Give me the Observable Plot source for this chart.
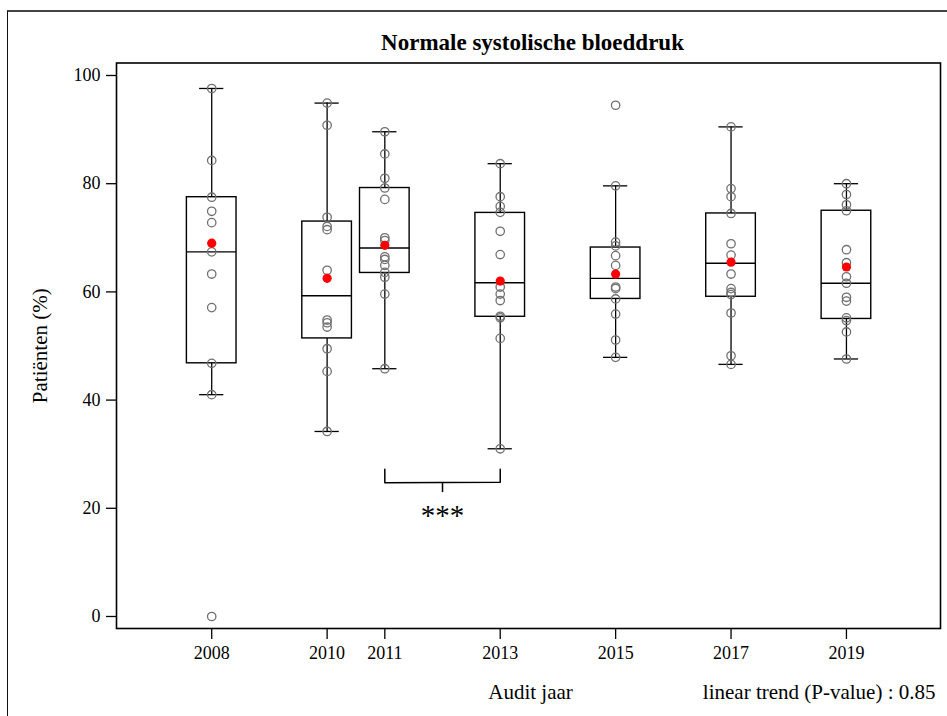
<!DOCTYPE html>
<html>
<head>
<meta charset="utf-8">
<script src="https://cdn.jsdelivr.net/npm/d3@7"></script>
<script src="https://cdn.jsdelivr.net/npm/@observablehq/plot@0.6"></script>
<style>
  html, body { margin: 0; padding: 0; background: #fff; }
  #wrap { position: relative; width: 947px; height: 716px; overflow: hidden; }
  #border { position: absolute; left: 7px; top: 10px; width: 960px; height: 720px;
            border-top: 2px solid #444; border-left: 1.5px solid #111; pointer-events: none; }
  svg { display: block; }
</style>
</head>
<body>
<div id="wrap"><div id="border"></div><div id="chart"></div></div>
<script>
// ---- data ----
const years       = [2008, 2010, 2011, 2013, 2015, 2017, 2019];
const q1          = [46.8, 51.4, 63.5, 55.4, 58.7, 59.1, 55.0];
const median      = [67.4, 59.3, 68.1, 61.7, 62.5, 65.3, 61.6];
const q3          = [77.5, 73.0, 79.2, 74.6, 68.2, 74.5, 75.0];
const whiskerLow  = [41.0, 34.2, 45.8, 31.0, 47.9, 46.6, 47.6];
const whiskerHigh = [97.6, 94.9, 89.6, 83.7, 79.6, 90.5, 80.0];
const means       = [69.0, 62.5, 68.6, 62.0, 63.3, 65.5, 64.6];

const pts2008 = [97.6, 84.3, 77.5, 74.9, 72.8, 67.4, 63.3, 57.1, 46.8, 41.0, 0];
const pts2010 = [94.9, 90.8, 73.8, 72.1, 71.5, 64.0, 54.8, 54.3, 53.5, 49.5, 45.3, 34.2];
const pts2011 = [89.6, 85.5, 81.0, 79.2, 77.1, 70.0, 69.5, 66.5, 66.0, 64.9, 63.6, 62.7, 59.6, 45.8];
const pts2013 = [83.7, 77.6, 75.8, 74.7, 71.2, 66.9, 60.9, 59.6, 58.4, 55.5, 55.2, 51.4, 31.0];
const pts2015 = [94.5, 79.6, 69.2, 68.5, 66.7, 64.9, 60.9, 60.6, 58.7, 55.9, 51.1, 47.9];
const pts2017 = [90.5, 79.1, 77.6, 74.5, 68.9, 66.8, 63.3, 60.6, 59.9, 59.5, 56.1, 48.2, 46.6];
const pts2019 = [80.0, 78.0, 76.1, 75.0, 67.8, 65.4, 62.8, 61.6, 59.0, 58.3, 55.2, 54.7, 52.6, 47.6];

const yTicks = [0, 20, 40, 60, 80, 100];
const xTicks = [2008, 2010, 2011, 2013, 2015, 2017, 2019];

// significance annotation
const bracketFrom = 2011, bracketTo = 2013;
const bracketY = 24.7, bracketTop = 27.2, bracketTickBottom = 22.9;
const starsLabel = "***", starsY = 18.6;

const title = "Normale systolische bloeddruk";
const yLabel = "Patiënten (%)";
const xLabel = "Audit jaar";
const trendLabel = "linear trend (P-value) : 0.85";

// ---- build tables ----
const allPts = [pts2008, pts2010, pts2011, pts2013, pts2015, pts2017, pts2019];
const stats = years.map((year, i) => ({
  year, q1: q1[i], median: median[i], q3: q3[i],
  lo: whiskerLow[i], hi: whiskerHigh[i], mean: means[i]
}));
const points = allPts.flatMap((arr, i) => arr.map(v => ({year: years[i], value: v})));

const boxHalf = 0.43, capHalf = 0.21;
const serif = "Liberation Serif, Times New Roman, serif";

const chart = Plot.plot({
  width: 947,
  height: 716,
  marginLeft: 116,
  marginRight: 7,
  marginTop: 62.5,
  marginBottom: 88,
  style: {fontFamily: serif, fontSize: "18px", background: "transparent", color: "#000"},
  x: {domain: [2006.35, 2020.63]},
  y: {domain: [-2.22, 102.31]},
  marks: [
    Plot.axisY({ticks: yTicks, tickSize: 10, tickPadding: 6, label: null, tickFormat: d => String(d), fontSize: 18, strokeWidth: 1.3}),
    Plot.axisX({ticks: xTicks, tickSize: 11, tickPadding: 7, label: null, tickFormat: d => String(d), fontSize: 18, strokeWidth: 1.3}),
    Plot.frame({stroke: "#000", strokeWidth: 1.6}),
    // whiskers
    Plot.ruleX(stats, {x: "year", y1: "lo", y2: "q1", stroke: "#000", strokeWidth: 1.3}),
    Plot.ruleX(stats, {x: "year", y1: "q3", y2: "hi", stroke: "#000", strokeWidth: 1.3}),
    // caps
    Plot.ruleY(stats, {y: "lo", x1: d => d.year - capHalf, x2: d => d.year + capHalf, stroke: "#000", strokeWidth: 1.3}),
    Plot.ruleY(stats, {y: "hi", x1: d => d.year - capHalf, x2: d => d.year + capHalf, stroke: "#000", strokeWidth: 1.3}),
    // boxes
    Plot.rect(stats, {x1: d => d.year - boxHalf, x2: d => d.year + boxHalf, y1: "q1", y2: "q3", fill: "none", stroke: "#000", strokeWidth: 1.4}),
    Plot.ruleY(stats, {y: "median", x1: d => d.year - boxHalf, x2: d => d.year + boxHalf, stroke: "#000", strokeWidth: 1.4}),
    // individual points
    Plot.dot(points, {x: "year", y: "value", r: 4.2, stroke: "#707070", strokeWidth: 1.3, fill: "none"}),
    // means
    Plot.dot(stats, {x: "year", y: "mean", r: 4.6, fill: "#ff0000", stroke: "none"}),
    // significance bracket
    Plot.line([[bracketFrom, bracketTop], [bracketFrom, bracketY], [bracketTo, bracketY + 0.1], [bracketTo, bracketTop]],
      {x: d => d[0], y: d => d[1], stroke: "#000", strokeWidth: 1.5, curve: "linear"}),
    Plot.ruleX([(bracketFrom + bracketTo) / 2], {x: d => d, y1: bracketY, y2: bracketTickBottom, stroke: "#000", strokeWidth: 1.5}),
    Plot.text([starsLabel], {x: (bracketFrom + bracketTo) / 2, y: starsY, text: d => d, fontSize: 29, fontFamily: serif}),
    // titles
    Plot.text([title], {frameAnchor: "top", lineAnchor: "middle", text: d => d, dy: -20, dx: 4, fontSize: 23, fontWeight: "bold", fontFamily: serif}),
    Plot.text([yLabel], {frameAnchor: "left", textAnchor: "middle", text: d => d, dx: -76, dy: 0, rotate: -90, fontSize: 21, fontFamily: serif}),
    Plot.text([xLabel], {frameAnchor: "bottom", lineAnchor: "middle", text: d => d, dy: 64, dx: 2, fontSize: 21, fontFamily: serif}),
    Plot.text([trendLabel], {frameAnchor: "bottom-right", lineAnchor: "middle", text: d => d, textAnchor: "end", dy: 64, dx: -5, fontSize: 21, fontFamily: serif})
  ]
});
document.getElementById("chart").appendChild(chart);
</script>
</body>
</html>
